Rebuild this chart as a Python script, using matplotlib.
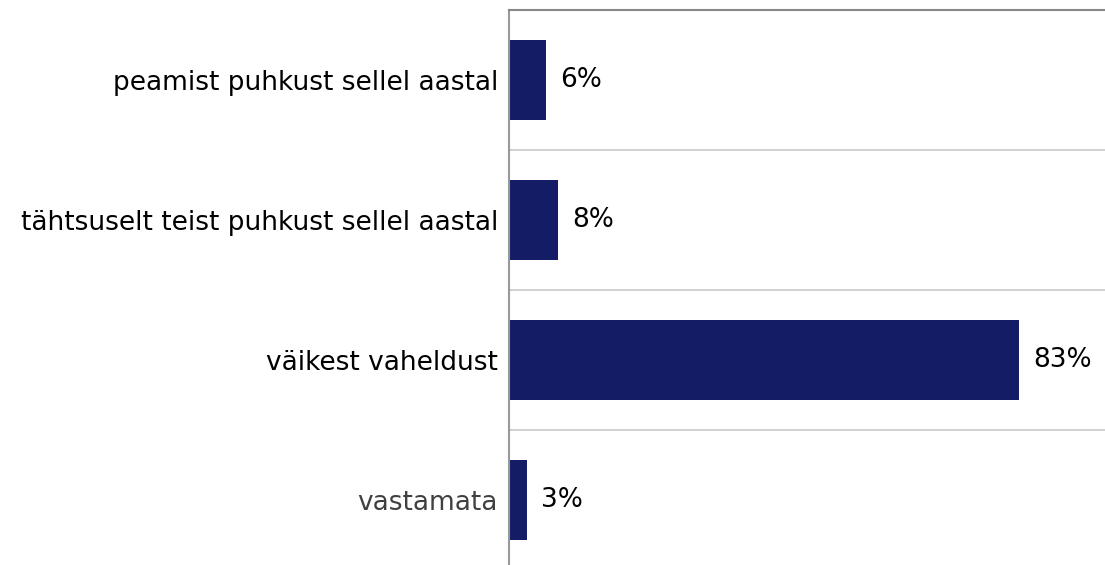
import matplotlib
matplotlib.use('Agg')
import matplotlib.pyplot as plt

plt.rcParams['font.family'] = ['DejaVu Sans']

categories = ['peamist puhkust sellel aastal',
              'tähtsuselt teist puhkust sellel aastal',
              'väikest vaheldust',
              'vastamata']
values = [6, 8, 83, 3]
label_colors = ['#000000', '#000000', '#000000', '#404040']

fig = plt.figure(figsize=(11.05, 5.65), dpi=100)
ax = fig.add_axes([509 / 1105, -5 / 565, 1 - 509 / 1105, 560 / 565])

pos = list(range(len(categories)))
ax.barh(pos, values, height=0.57, color='#141C66')
ax.set_xlim(0, 97)
ax.set_ylim(3.5, -0.5)

for y, v in zip(pos, values):
    ax.annotate(f'{v}%', xy=(v, y), xytext=(10, 0), textcoords='offset points',
                va='center', ha='left', fontsize=19, color='#000000')

ax.set_yticks(pos)
ax.set_yticklabels(categories, fontsize=19)
for lbl, c in zip(ax.get_yticklabels(), label_colors):
    lbl.set_color(c)
ax.tick_params(axis='y', length=0, pad=8)
ax.set_xticks([])

# separators between categories
for b in [0.5, 1.5, 2.5]:
    ax.axhline(b, color='#c8c8c8', lw=1.2, zorder=0)

for s in ['right', 'bottom']:
    ax.spines[s].set_visible(False)
ax.spines['left'].set_color('#999999')
ax.spines['left'].set_linewidth(1.5)
ax.spines['top'].set_color('#888888')
ax.spines['top'].set_linewidth(1.5)

plt.savefig('out.png', dpi=100)
